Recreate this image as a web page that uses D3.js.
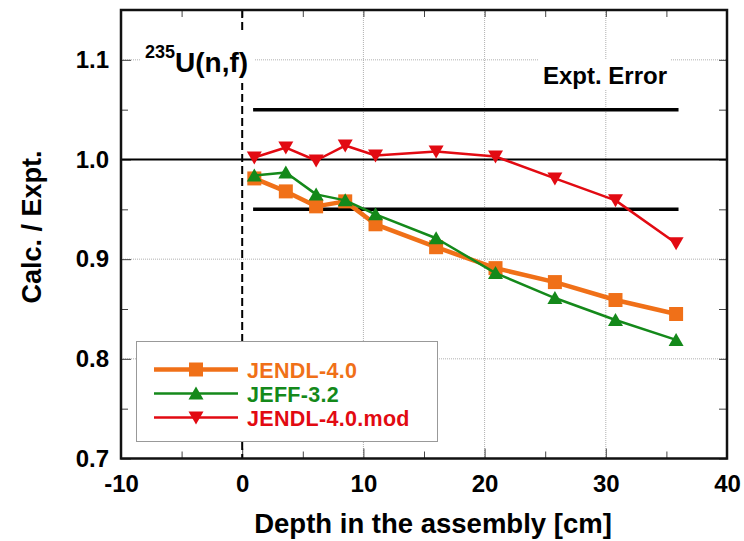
<!DOCTYPE html>
<html>
<head>
<meta charset="utf-8">
<script src="https://cdn.jsdelivr.net/npm/d3@7"></script>
<style>
  html, body { margin: 0; padding: 0; background: #fff; }
  svg { display: block; font-family: "Liberation Sans", Arial, sans-serif; font-weight: bold; }
</style>
</head>
<body>
<svg id="chart" width="744" height="541"></svg>
<script>
// Measurement positions (depth in the assembly, cm)
const depth = [1.0, 3.6, 6.1, 8.5, 11.0, 16.0, 20.9, 25.8, 30.8, 35.8];
// C/E ratios per nuclear data library
const jendl40 = [0.981, 0.968, 0.953, 0.958, 0.935, 0.912, 0.891, 0.877, 0.859, 0.845];
const jeff32 = [0.984, 0.987, 0.965, 0.959, 0.945, 0.921, 0.886, 0.861, 0.839, 0.819];
const jendl40mod = [1.002, 1.012, 0.999, 1.014, 1.004, 1.008, 1.003, 0.981, 0.959, 0.916];
// Experimental error band and its x extent
const exptErrorLevels = [1.05, 0.95];
const exptErrorRange = [0.9, 36];
// Axis ticks
const xTicks = [-10, 0, 10, 20, 30, 40];
const xMinorTicks = [-5, 5, 15, 25, 35];
const yTicks = [0.7, 0.8, 0.9, 1.0, 1.1];
const yMinorTicks = [0.75, 0.85, 0.95, 1.05];
const seriesNames = ["JENDL-4.0", "JEFF-3.2", "JENDL-4.0.mod"];

const svg = d3.select("#chart");
const pLeft = 121, pRight = 727, pTop = 10, pBottom = 458.5;
const x = d3.scaleLinear().domain([-10, 40]).range([pLeft, pRight]);
const y = d3.scaleLinear().domain([0.7, 1.15]).range([pBottom, pTop]);

const series = [
  { name: seriesNames[0], values: jendl40, color: "#f07018", width: 4.5, shape: "square" },
  { name: seriesNames[1], values: jeff32, color: "#14891a", width: 2.5, shape: "up" },
  { name: seriesNames[2], values: jendl40mod, color: "#e20a12", width: 2.5, shape: "down" }
];

function markerPath(shape) {
  if (shape === "square") return "M-7,-7H7V7H-7Z";
  if (shape === "up") return "M0,-7L7.5,6L-7.5,6Z";
  return "M0,7L7.5,-6L-7.5,-6Z";
}

// Grid lines at major ticks
const grid = svg.append("g").attr("stroke", "#b0b0b0").attr("stroke-width", 1).attr("stroke-dasharray", "1,1");
[10, 20, 30].forEach(v => grid.append("line").attr("x1", x(v)).attr("x2", x(v)).attr("y1", pTop).attr("y2", pBottom));
[0.8, 0.9, 1.1].forEach(v => grid.append("line").attr("x1", pLeft).attr("x2", pRight).attr("y1", y(v)).attr("y2", y(v)));

// Bottom and top axes (ticks inward)
const xAxisB = d3.axisBottom(x).tickValues(xTicks).tickSize(-10).tickFormat(d => String(d)).tickPadding(16);
svg.append("g").attr("transform", `translate(0,${pBottom})`).call(xAxisB);
svg.append("g").attr("transform", `translate(0,${pBottom})`).call(d3.axisBottom(x).tickValues(xMinorTicks).tickSize(-7).tickFormat(""));
svg.append("g").attr("transform", `translate(0,${pTop})`).call(d3.axisTop(x).tickValues(xTicks.concat(xMinorTicks)).tickSize(-7).tickFormat(""));

// Left and right axes
const yAxisL = d3.axisLeft(y).tickValues(yTicks).tickSize(-10).tickFormat(d3.format(".1f")).tickPadding(12);
svg.append("g").attr("transform", `translate(${pLeft},0)`).call(yAxisL);
svg.append("g").attr("transform", `translate(${pLeft},0)`).call(d3.axisLeft(y).tickValues(yMinorTicks).tickSize(-7).tickFormat(""));
svg.append("g").attr("transform", `translate(${pRight},0)`).call(d3.axisRight(y).tickValues(yTicks.concat(yMinorTicks)).tickSize(-8).tickFormat(""));

svg.selectAll(".domain").remove();
svg.selectAll(".tick line").attr("stroke", "#444").attr("stroke-width", 1);
svg.selectAll(".tick text").attr("fill", "#000").attr("font-size", 24)
  .attr("font-family", "'Liberation Sans', Arial, sans-serif").attr("font-weight", "bold");

// Reference line at C/E = 1
svg.append("line").attr("x1", pLeft).attr("x2", pRight).attr("y1", y(1.0)).attr("y2", y(1.0))
  .attr("stroke", "#000").attr("stroke-width", 2);

// Label backgrounds
svg.append("rect").attr("x", 141).attr("y", 31).attr("width", 114).attr("height", 52).attr("fill", "#fff");
svg.append("rect").attr("x", 539).attr("y", 59).attr("width", 131).attr("height", 31).attr("fill", "#fff");

// Boundary of the assembly at depth 0
svg.append("line").attr("x1", x(0)).attr("x2", x(0)).attr("y1", pTop).attr("y2", pBottom)
  .attr("stroke", "#000").attr("stroke-width", 2).attr("stroke-dasharray", "8,4");
svg.append("rect").attr("x", 236).attr("y", 31).attr("width", 19).attr("height", 52).attr("fill", "#fff");

const title = svg.append("text").attr("x", 145).attr("y", 72).attr("font-size", 28);
title.append("tspan").attr("font-size", 18).attr("dy", -14).text("235");
title.append("tspan").attr("dy", 14).text("U(n,f)");

svg.append("text").attr("x", 605).attr("y", 84).attr("text-anchor", "middle").attr("font-size", 24).text("Expt. Error");

// Experimental error bounds
exptErrorLevels.forEach(v => svg.append("line")
  .attr("x1", x(exptErrorRange[0])).attr("x2", x(exptErrorRange[1]))
  .attr("y1", y(v)).attr("y2", y(v)).attr("stroke", "#000").attr("stroke-width", 3.5));

// Series lines and markers
const line = d3.line().x((d, i) => x(depth[i])).y(d => y(d));
series.forEach(s => {
  const g = svg.append("g");
  g.append("path").datum(s.values).attr("d", line).attr("fill", "none")
    .attr("stroke", s.color).attr("stroke-width", s.width).attr("stroke-linejoin", "round");
  g.selectAll("path.m").data(s.values).enter().append("path").attr("class", "m")
    .attr("transform", (d, i) => `translate(${x(depth[i])},${y(d)})`)
    .attr("d", markerPath(s.shape)).attr("fill", s.color);
});

// Frame
svg.append("rect").attr("x", pLeft).attr("y", pTop).attr("width", pRight - pLeft).attr("height", pBottom - pTop)
  .attr("fill", "none").attr("stroke", "#111").attr("stroke-width", 2.5);

// Legend
const lg = svg.append("g");
lg.append("rect").attr("x", 136.5).attr("y", 341.5).attr("width", 301).attr("height", 100)
  .attr("fill", "#fff").attr("stroke", "#999").attr("stroke-width", 1);
series.forEach((s, i) => {
  const cy = [369.5, 393.5, 417.5][i];
  lg.append("line").attr("x1", 154).attr("x2", 238).attr("y1", cy).attr("y2", cy)
    .attr("stroke", s.color).attr("stroke-width", s.width);
  lg.append("path").attr("transform", `translate(196,${cy})`).attr("d", markerPath(s.shape)).attr("fill", s.color);
  lg.append("text").attr("x", 247).attr("y", cy + 8).attr("font-size", 21.5).attr("letter-spacing", 0.3)
    .attr("fill", s.color).text(s.name);
});

// Axis titles
svg.append("text").attr("x", 433).attr("y", 533).attr("text-anchor", "middle").attr("font-size", 27.5)
  .text("Depth in the assembly [cm]");
svg.append("text").attr("transform", "translate(41,227) rotate(-90)").attr("text-anchor", "middle").attr("font-size", 27)
  .text("Calc. / Expt.");
</script>
</body>
</html>
